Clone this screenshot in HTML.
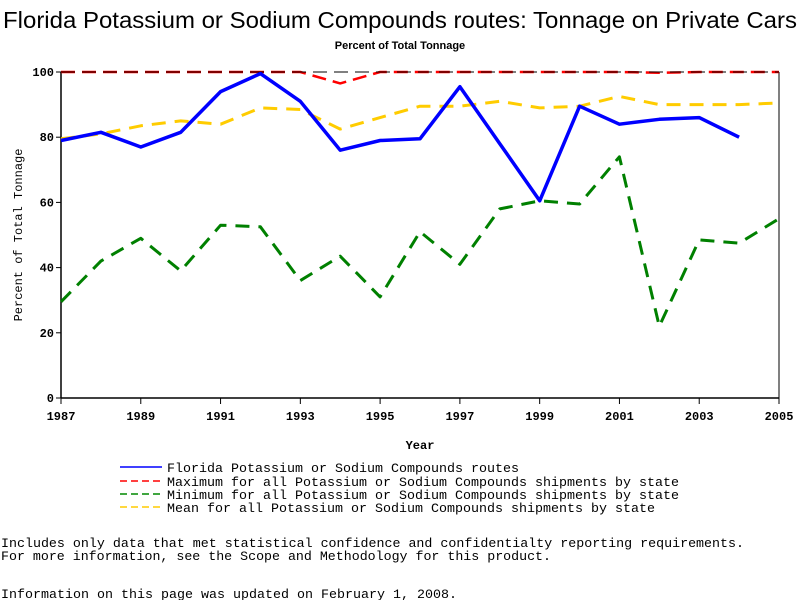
<!DOCTYPE html>
<html><head><meta charset="utf-8"><style>
body{margin:0;background:#fff;width:800px;height:600px;overflow:hidden}
svg{display:block}
text{font-family:"Liberation Mono",monospace}
</style></head><body>
<svg id="chart" width="800" height="600">
<text x="3" y="28" textLength="794" lengthAdjust="spacingAndGlyphs" font-size="23" style="font-family:'Liberation Sans',sans-serif">Florida Potassium or Sodium Compounds routes: Tonnage on Private Cars</text>
<text x="400" y="49" text-anchor="middle" font-size="11" font-weight="bold" style="font-family:'Liberation Sans',sans-serif">Percent of Total Tonnage</text>
<g id="plot"></g>
<text x="420" y="449" text-anchor="middle" font-size="12" font-weight="bold">Year</text>
<text transform="translate(22,235) rotate(-90)" text-anchor="middle" font-size="12">Percent of Total Tonnage</text>
<g font-size="13">
<g><line x1="120" y1="467" x2="162" y2="467" stroke="#00f" stroke-width="1.5"/><text x="167" y="472" textLength="352" lengthAdjust="spacingAndGlyphs">Florida Potassium or Sodium Compounds routes</text></g>
<g><line x1="120" y1="481" x2="162" y2="481" stroke="#f00" stroke-dasharray="7,4" stroke-width="1.5"/><text x="167" y="486" textLength="512" lengthAdjust="spacingAndGlyphs">Maximum for all Potassium or Sodium Compounds shipments by state</text></g>
<g><line x1="120" y1="494" x2="162" y2="494" stroke="#080" stroke-dasharray="7,4" stroke-width="1.5"/><text x="167" y="499" textLength="512" lengthAdjust="spacingAndGlyphs">Minimum for all Potassium or Sodium Compounds shipments by state</text></g>
<g><line x1="120" y1="507" x2="162" y2="507" stroke="#fc0" stroke-dasharray="7,4" stroke-width="1.5"/><text x="167" y="512" textLength="488" lengthAdjust="spacingAndGlyphs">Mean for all Potassium or Sodium Compounds shipments by state</text></g>
</g>
<text x="1" y="547" font-size="13" textLength="743" lengthAdjust="spacingAndGlyphs">Includes only data that met statistical confidence and confidentialty reporting requirements.</text>
<text x="1" y="560" font-size="13" textLength="550" lengthAdjust="spacingAndGlyphs">For more information, see the Scope and Methodology for this product.</text>
<text x="1" y="598" font-size="13" textLength="456" lengthAdjust="spacingAndGlyphs">Information on this page was updated on February 1, 2008.</text>
</svg>
<script>
const years=[1987,1988,1989,1990,1991,1992,1993,1994,1995,1996,1997,1998,1999,2000,2001,2002,2003,2004,2005];
const florida=[79,81.5,77,81.5,94,99.5,91,76,79,79.5,95.5,78,60.5,89.5,84,85.5,86,80,null];
const maximum=[100,100,100,100,100,100,100,96.5,100,100,100,100,100,100,100,99.8,100,100,100];
const minimum=[29.5,42,49,39,53,52.5,36,43.5,31,51,41,58,60.5,59.5,74,22,48.5,47.5,55];
const mean=[79.5,81,83.5,85,84,89,88.5,82.5,86,89.5,89.5,91,89,89.5,92.5,90,90,90,90.5];
const yTicks=[0,20,40,60,80,100];
const xTicks=[1987,1989,1991,1993,1995,1997,1999,2001,2003,2005];

const X0=61,X1=779,Y0=398,Y1=72;
const xs=y=>X0+(y-1987)/(2005-1987)*(X1-X0);
const ys=v=>Y0-v/100*(Y0-Y1);
const NS='http://www.w3.org/2000/svg';
const plot=document.getElementById('plot');
function mk(tag,attrs,parent){const e=document.createElementNS(NS,tag);for(const k in attrs)e.setAttribute(k,attrs[k]);(parent||plot).appendChild(e);return e;}

let ax=mk('line',{x1:X0,y1:Y0,x2:X1,y2:Y0,stroke:'#000','stroke-width':1.5});


ax=mk('line',{x1:X0,y1:Y0,x2:X0,y2:Y1,stroke:'#000','stroke-width':1.5});


ax=mk('line',{x1:X1,y1:Y0,x2:X1,y2:Y1,stroke:'#000','stroke-width':1});



yTicks.forEach(v=>{
  const y=ys(v);
  const t=mk('line',{x1:X0-5,y1:y,x2:X0,y2:y,stroke:'#000'});
  
  
  const l=mk('text',{x:X0-7,y:y+4,'text-anchor':'end','font-size':12,'font-weight':'bold'});
  l.textContent=v;
  
  
});
xTicks.forEach(v=>{
  const x=xs(v);
  const t=mk('line',{x1:x,y1:Y0,x2:x,y2:Y0+6,stroke:'#000'});
  
  
  const l=mk('text',{x:x,y:Y0+22,'text-anchor':'middle','font-size':12,'font-weight':'bold'});
  l.textContent=v;
  
  
});

function series(vals,color,width,dash,name){
  let d='';let pen=false;
  vals.forEach((v,i)=>{if(v==null){pen=false;return;}d+=(pen?'L':'M')+xs(years[i]).toFixed(1)+','+ys(v).toFixed(1);pen=true;});
  const p=mk('path',{d:d,fill:'none',stroke:color,'stroke-width':width,'stroke-dasharray':dash||'none','stroke-linejoin':'round'});
  
  
}
series(maximum,'#f00',2.5,'14,7','series-maximum');
const ref=mk('line',{x1:X0,y1:ys(100),x2:X1,y2:ys(100),stroke:'#000','stroke-width':1,'stroke-dasharray':'14,7'});


series(mean,'#ffcc00',3,'14,9','series-mean');
series(minimum,'#008000',3,'14,9','series-minimum');
series(florida,'#0000ff',3.5,null,'series-florida');
</script>
</body></html>
